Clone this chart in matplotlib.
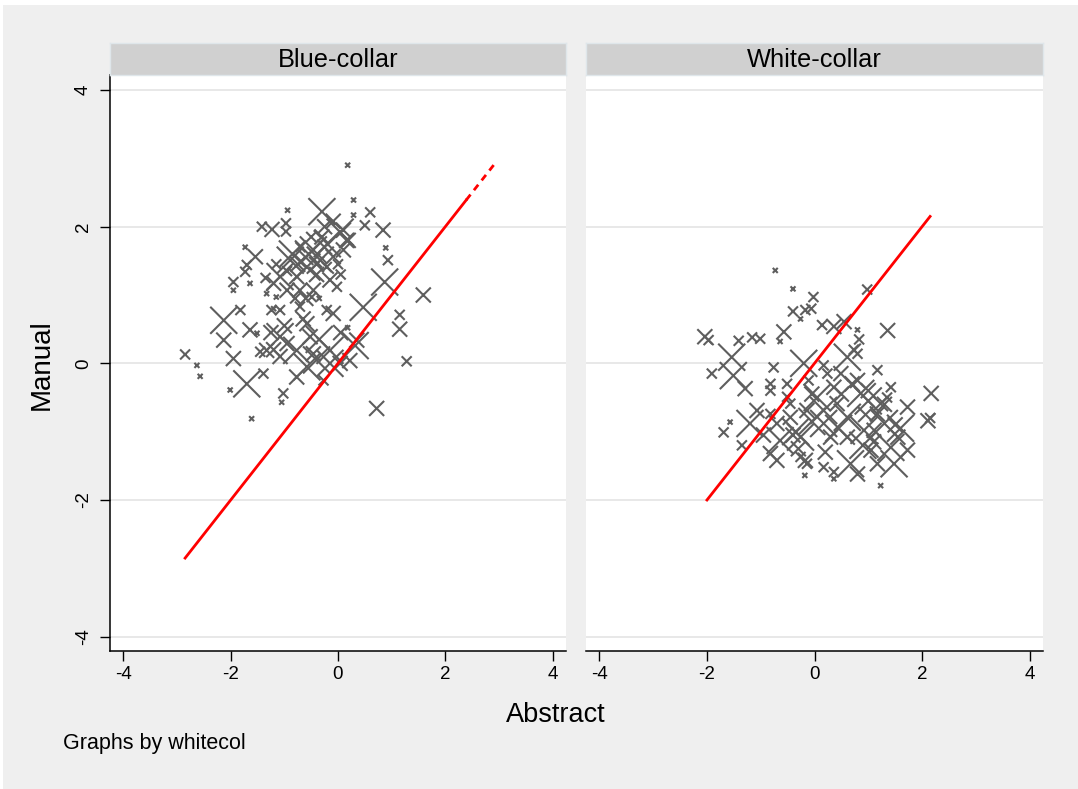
import matplotlib
matplotlib.use("Agg")
import matplotlib.pyplot as plt
from matplotlib.patches import Rectangle

plt.rcParams['font.family'] = ['Liberation Sans', 'DejaVu Sans']

# ── data ──────────────────────────────────────────────────────
# marker extents: L=large, M=medium, S=small, T=tiny (pixel widths)
SIZE_PX = {'L': 27, 'M': 15, 'S': 10, 'T': 5}

blue_x = [0.18, 0.29, -0.94, -0.30, 0.60, 0.29, 0.84, 0.50, -1.42, -1.23,
          -0.97, -0.97, -0.09, 0.04, 0.19, 0.93, 0.89, 0.87, 1.59, 1.15,
          1.15, 1.28, 0.72, 0.47, 0.18, 0.35, 0.22, -0.27, -2.13, -2.13,
          -1.95, -1.70, -1.39, -1.45, -1.02, -1.05, -2.01, -1.61, -2.85, -2.63,
          -2.57, -1.95, -1.95, -1.64, -1.73, -1.54, -1.70, -1.73, -1.82, -1.64,
          -1.51, -1.20, -1.08, -0.71, -0.21, -0.09, -0.58, -0.52, -1.08, -0.95,
          -0.77, -0.46, -0.58, -0.15, 0.04, -0.77, -1.08, -1.33, -0.89, -0.58,
          -0.33, -0.46, -0.77, -1.08, -0.95, -1.20, -0.71, -0.46, -0.15, -0.21,
          -0.09, 0.10, 0.16, -0.02, -1.33, -1.15, -1.24, -0.49, -0.60, -0.40,
          -0.25, -0.70, -0.95, -0.80, -0.35, 0.00, -0.50, -1.15, -1.35, 0.10,
          -0.25, 0.32, -0.40, -0.65, -0.30, -0.85, 0.05, -1.25,
          -0.55, -0.20, -0.75, -0.40, -0.15, -0.35, 0.05, -1.00, -1.20, -0.60]
blue_y = [2.90, 2.39, 2.24, 2.22, 2.21, 2.17, 1.95, 2.02, 2.00, 1.96,
          2.05, 1.93, 2.08, 1.92, 1.80, 1.51, 1.69, 1.19, 1.00, 0.71,
          0.50, 0.03, -0.66, 0.82, 0.52, 0.34, 0.04, -0.25, 0.63, 0.34,
          0.07, -0.30, -0.15, 0.17, -0.44, -0.57, -0.39, -0.81, 0.13, -0.03,
          -0.19, 1.19, 1.07, 1.17, 1.70, 1.56, 1.44, 1.34, 0.78, 0.49,
          0.44, 0.80, 0.78, 0.83, 0.78, 0.73, 0.58, 0.39, 0.39, 0.29,
          0.19, 0.14, -0.05, 0.19, 0.00, -0.20, 0.10, 0.19, 1.51, 1.41,
          1.51, 1.66, 1.27, 1.27, 1.07, 1.17, 1.07, 1.07, 1.22, 1.41,
          1.56, 1.66, 1.80, 1.12, 1.02, 0.97, 0.78, 0.97, 1.55, 1.30,
          1.70, 1.70, 1.35, 0.95, 0.95, 1.45, 1.85, 1.45, 1.25, 1.95,
          2.00, 0.26, 0.05, 0.65, 1.85, 1.60, 1.30, 0.45,
          1.60, 1.75, 1.45, 1.45, 0.00, 0.35, 0.45, 0.55, 0.20, 0.95]
blue_sz = ['T', 'T', 'T', 'L', 'S', 'T', 'M', 'S', 'S', 'M',
           'S', 'S', 'M', 'L', 'M', 'S', 'T', 'L', 'M', 'S',
           'M', 'S', 'M', 'L', 'T', 'M', 'M', 'S', 'L', 'M',
           'M', 'L', 'S', 'S', 'S', 'T', 'T', 'T', 'S', 'T',
           'T', 'S', 'T', 'T', 'T', 'M', 'S', 'S', 'S', 'M',
           'T', 'T', 'S', 'S', 'S', 'M', 'M', 'M', 'L', 'M',
           'L', 'M', 'L', 'L', 'M', 'M', 'M', 'M', 'L', 'L',
           'L', 'L', 'M', 'L', 'M', 'M', 'M', 'M', 'M', 'S',
           'M', 'M', 'M', 'S', 'T', 'T', 'S', 'S', 'M', 'M',
           'M', 'S', 'S', 'S', 'T', 'S', 'S', 'S', 'S', 'M',
           'M', 'L', 'L', 'M', 'M', 'L', 'S', 'M',
           'L', 'L', 'M', 'M', 'L', 'L', 'M', 'M', 'M', 'M']

white_x = [-0.73, -0.40, 0.98, -0.02, -0.40, -0.17, -0.06, -0.26, 0.14, 0.36,
           0.55, 0.80, 1.36, 0.83, 0.73, 0.80, -2.04, -1.97, -1.41, -1.16,
           -1.01, -0.57, -0.64, -1.54, -1.51, -1.91, -1.29, -0.76, -0.20, 0.17,
           0.24, -0.11, -0.82, -0.82, -0.51, -0.51, -1.07, -1.20, -1.69, -1.57,
           -1.35, -0.82, -0.70, -0.64, -0.82, -0.70, -0.26, -0.17, -0.14, -0.18,
           0.17, 0.36, 0.36, 0.67, 0.80, 1.23, 1.05, 1.17, 1.48, 1.42,
           1.73, 1.55, 1.30, 1.17, 1.73, 2.11, 2.17, 1.42, 1.17, 0.61,
           0.49, 0.36, 0.80, 0.86, 0.42, 0.61, 0.17, -0.14, -0.45, -0.45,
           0.17, 0.30, -0.26, 0.92, 0.61, 1.11, 1.23, 0.05, -0.35, 1.00,
           1.10, 0.45, -0.05, -0.95, 1.60, 0.95, 1.35, 2.15, -0.30, 0.70,
           0.90, 1.30, 0.20, -0.40, 1.00, 0.50, -0.05, 1.50]
white_y = [1.36, 1.09, 1.08, 0.97, 0.76, 0.78, 0.80, 0.65, 0.56, 0.54,
           0.61, 0.49, 0.48, 0.35, 0.20, 0.14, 0.39, 0.34, 0.33, 0.38,
           0.36, 0.46, 0.32, 0.09, -0.18, -0.15, -0.37, -0.06, 0.00, -0.03,
           -0.15, -0.25, -0.30, -0.40, -0.30, -0.49, -0.69, -0.88, -1.01, -0.86,
           -1.20, -0.74, -0.88, -1.13, -1.32, -1.42, -1.37, -1.42, -1.47, -1.64,
           -1.52, -1.59, -1.69, -1.47, -1.62, -1.79, -1.27, -1.47, -1.47, -1.23,
           -1.27, -1.08, -0.88, -0.74, -0.64, -0.84, -0.44, -0.35, -0.10, 0.09,
           -0.15, -0.35, -0.25, -0.44, -0.59, -0.79, -0.69, -0.69, -0.79, -0.59,
           -0.88, -1.08, -1.08, -0.98, -1.08, -0.98, -0.59, -0.50, -1.00, -0.55,
           -1.15, -0.95, -0.45, -1.05, -0.95, -0.75, -0.50, -0.80, -1.25, -0.30,
           -1.20, -0.60, -1.30, -1.05, -0.40, -0.45, -0.85, -0.90]
white_sz = ['T', 'T', 'S', 'S', 'S', 'S', 'S', 'T', 'S', 'M',
            'M', 'T', 'M', 'S', 'S', 'S', 'M', 'S', 'S', 'S',
            'S', 'M', 'T', 'L', 'L', 'S', 'M', 'S', 'L', 'S',
            'S', 'S', 'S', 'S', 'S', 'S', 'M', 'L', 'S', 'T',
            'S', 'S', 'M', 'L', 'M', 'M', 'S', 'M', 'S', 'T',
            'S', 'S', 'T', 'L', 'M', 'T', 'M', 'M', 'L', 'L',
            'M', 'M', 'L', 'M', 'M', 'M', 'M', 'S', 'S', 'L',
            'M', 'M', 'M', 'L', 'M', 'L', 'L', 'M', 'M', 'S',
            'L', 'M', 'L', 'L', 'M', 'M', 'M', 'L', 'L', 'L',
            'M', 'L', 'M', 'M', 'L', 'M', 'S', 'S', 'M', 'M',
            'L', 'M', 'M', 'M', 'M', 'M', 'L', 'M']

# fitted 45-degree line extents per panel
blue_line_solid = [-2.85, 2.39]
blue_line_dash = [2.39, 2.92]
white_line = [-2.0, 2.15]

panel_titles = ['Blue-collar', 'White-collar']
ticks = [-4, -2, 0, 2, 4]

# ── figure ────────────────────────────────────────────────────
W, H = 1078, 789
fig = plt.figure(figsize=(W / 100, H / 100), dpi=100)
fig.patch.set_facecolor('white')
fig.add_artist(Rectangle((3 / W, 0), 1 - 3 / W, 1 - 5 / H, transform=fig.transFigure,
                         facecolor='#efefef', edgecolor='none', zorder=0))

def px_box(x0, y0, x1, y1):
    return [x0 / W, 1 - y1 / H, (x1 - x0) / W, (y1 - y0) / H]

MCOL = '#5e5e5e'
panels = [
    (px_box(110, 75, 566, 651), blue_x, blue_y, blue_sz),
    (px_box(586, 75, 1043, 651), white_x, white_y, white_sz),
]
strips = [px_box(110, 43, 566, 75), px_box(586, 43, 1043, 75)]

axes = []
for i, (box, xs, ys, sz) in enumerate(panels):
    ax = fig.add_axes(box)
    ax.set_facecolor('white')
    ax.set_xlim(-4.25, 4.25)
    ax.set_ylim(-4.21, 4.22)
    ax.set_xticks(ticks)
    ax.set_yticks(ticks)
    ax.grid(axis='y', color='#e6e6e6', lw=1.3)
    ax.grid(axis='x', visible=False)
    ax.set_axisbelow(True)
    s = [(SIZE_PX[k] * 0.72) ** 2 for k in sz]
    ax.scatter(xs, ys, s=s, marker='x', color=MCOL, linewidths=1.5, zorder=3)
    for sp in ['top', 'right']:
        ax.spines[sp].set_visible(False)
    ax.spines['bottom'].set_linewidth(1.1)
    ax.spines['left'].set_linewidth(1.1)
    ax.tick_params(axis='x', length=7, width=1.0, labelsize=13.5, pad=4)
    ax.set_xticklabels([str(t) for t in ticks])
    if i == 0:
        ax.tick_params(axis='y', length=7, width=1.0, labelsize=13.5, pad=6)
        ax.set_yticklabels([str(t) for t in ticks], rotation=90, va='center')
    else:
        ax.spines['left'].set_visible(False)
        ax.tick_params(axis='y', left=False, labelleft=False)
    axes.append(ax)

axes[0].plot(blue_line_solid, blue_line_solid, color='red', lw=2.0, zorder=4)
axes[0].plot(blue_line_dash, blue_line_dash, color='red', lw=2.0, ls=(0, (2.5, 2)), zorder=4)
axes[1].plot(white_line, white_line, color='red', lw=2.0, zorder=4)

for box, title in zip(strips, panel_titles):
    sax = fig.add_axes(box)
    sax.set_facecolor('#d0d0d0')
    sax.set_xticks([]); sax.set_yticks([])
    for sp in sax.spines.values():
        sp.set_edgecolor('#dfe6ea'); sp.set_linewidth(1.0)
    sax.text(0.5, 0.47, title, ha='center', va='center', fontsize=18.3,
             transform=sax.transAxes)

fig.text(42 / W, 1 - 365 / H, 'Manual', rotation=90, ha='center', va='center', fontsize=20)
fig.text(556 / W, 1 - 715 / H, 'Abstract', ha='center', va='center', fontsize=19.5)
fig.text(63 / W, 1 - 744 / H, 'Graphs by whitecol', ha='left', va='center', fontsize=15.5)

fig.savefig('out.png', dpi=100)
